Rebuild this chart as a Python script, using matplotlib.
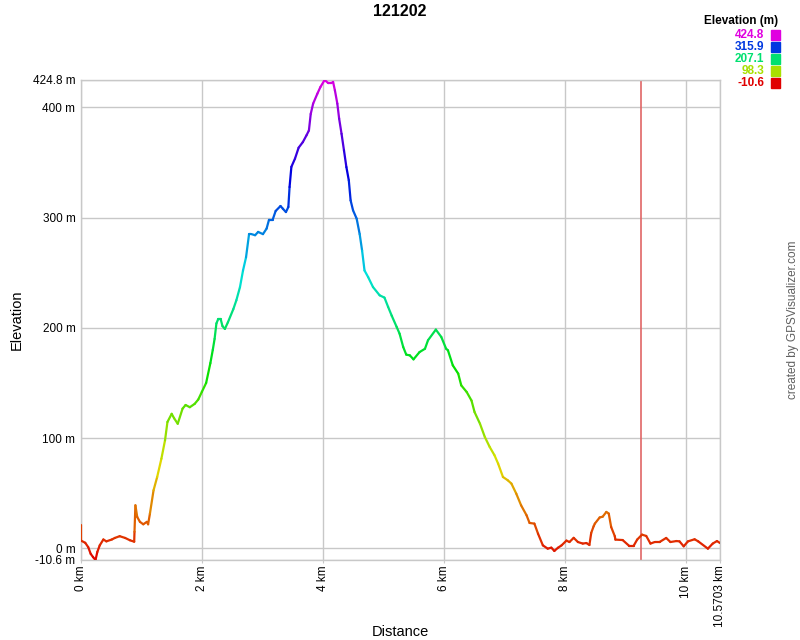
import numpy as np
import matplotlib
matplotlib.use('Agg')
import matplotlib.pyplot as plt
from matplotlib.collections import LineCollection
from matplotlib.colors import hsv_to_rgb

plt.rcParams['font.family'] = ['Liberation Sans', 'DejaVu Sans']

# Profile (km, m)
dist_km = [0.0, 0.0, 0.07, 0.12, 0.16, 0.20, 0.24, 0.27, 0.31, 0.37, 0.42, 0.51, 0.56, 0.64,
           0.73, 0.81, 0.88, 0.885, 0.90, 0.93, 0.975, 1.03, 1.09, 1.11, 1.14, 1.20, 1.26, 1.33,
           1.39, 1.43, 1.50, 1.54, 1.60, 1.68, 1.73, 1.80, 1.88, 1.94, 2.00, 2.07, 2.14, 2.18,
           2.21, 2.24, 2.27, 2.31, 2.34, 2.38, 2.43, 2.52, 2.57, 2.63, 2.68, 2.73, 2.78, 2.82,
           2.88, 2.93, 3.01, 3.07, 3.11, 3.17, 3.22, 3.30, 3.34, 3.39, 3.43, 3.45, 3.48, 3.54,
           3.60, 3.67, 3.73, 3.77, 3.80, 3.84, 3.91, 3.96, 4.03, 4.09, 4.14, 4.17, 4.20, 4.24,
           4.27, 4.31, 4.35, 4.39, 4.43, 4.46, 4.50, 4.56, 4.61, 4.65, 4.69, 4.75, 4.83, 4.94,
           5.02, 5.08, 5.14, 5.22, 5.27, 5.33, 5.38, 5.44, 5.50, 5.60, 5.69, 5.74, 5.87, 5.96,
           6.04, 6.07, 6.15, 6.24, 6.29, 6.38, 6.46, 6.51, 6.60, 6.68, 6.76, 6.84, 6.90, 6.98,
           7.06, 7.12, 7.20, 7.28, 7.37, 7.42, 7.50, 7.56, 7.64, 7.72, 7.78, 7.83, 7.89, 7.95,
           8.03, 8.08, 8.15, 8.22, 8.30, 8.36, 8.41, 8.44, 8.48, 8.50, 8.58, 8.63, 8.69, 8.73,
           8.77, 8.83, 8.84, 8.96, 9.07, 9.14, 9.20, 9.28, 9.35, 9.42, 9.49, 9.57, 9.68, 9.75,
           9.85, 9.90, 9.97, 10.04, 10.15, 10.21, 10.37, 10.45, 10.52, 10.5703]
elev_m = [21, 7, 5, 1, -5, -8, -10.6, -3.3, 2.7, 8, 6.3, 8, 9.4, 11,
          9.4, 7.3, 6, 15, 39, 28.4, 24, 21.8, 24, 21.8, 31.4, 52.6, 64.7, 81.3,
          98, 114.6, 122, 118, 113, 126.7, 130, 128, 131, 135, 142, 150, 168, 180,
          190, 204, 208, 208, 201.6, 199, 205, 217, 225, 237, 252, 264, 285, 285,
          284, 287, 285, 290, 298, 298, 306, 310.5, 308, 305, 309.6, 327.7, 346, 353.5,
          363.4, 368.5, 374.6, 379, 394, 403.4, 412.4, 418.4, 424.8, 422, 422, 423, 415.4, 403.4,
          389.8, 376, 361, 345.8, 333.8, 315.6, 306.6, 299, 285, 270, 252, 246, 237, 229.5,
          227.4, 219, 211, 201, 194.7, 182.6, 175.7, 175, 171.4, 178, 181, 188.7, 198.4, 191.7,
          181, 179.6, 166, 158.4, 147.8, 141.8, 134, 123.6, 113, 101, 92, 84.4, 76.8, 64.7,
          61.7, 58.7, 49.6, 39, 30, 23, 22.4, 13.3, 2.7, -0.3, 0.6, -2.4, 0.5, 2.7,
          7, 5.7, 9.5, 5.7, 4.3, 4.8, 3, 14, 20, 22.4, 28, 28.7, 33, 31.5,
          19.3, 11, 7.9, 7.5, 2.1, 2.1, 7.9, 12.4, 11.2, 4.3, 5.7, 5.7, 9.4, 5.7,
          6.6, 6.3, 1.8, 6.3, 8.2, 6.3, -0.3, 4.3, 6.6, 4.8]

legend_vals = [424.8, 315.9, 207.1, 98.3, -10.6]
y_ticks = [-10.6, 0, 100, 200, 300, 400, 424.8]
y_labels = ['-10.6 m', '0 m', '100 m', '200 m', '300 m', '400 m', '424.8 m']
x_ticks = [0, 2, 4, 6, 8, 10, 10.5703]
x_labels = ['0 km', '2 km', '4 km', '6 km', '8 km', '10 km', '10.5703 km']
marker_km = 9.256

emin, emax = min(elev_m), max(elev_m)


def elev_color(v):
    # hue wheel red -> magenta
    h = (v - emin) / (emax - emin) * 300.0 / 360.0
    return hsv_to_rgb([h, 1.0, 0.88])


fig = plt.figure(figsize=(8, 6.4), dpi=100)
ax = fig.add_axes([81 / 800, 80 / 640, 639 / 800, 480 / 640])

x = np.array(dist_km)
y = np.array(elev_m)
pts = np.column_stack([x, y]).reshape(-1, 1, 2)
segs = np.concatenate([pts[:-1], pts[1:]], axis=1)
cols = [elev_color((a + b) / 2) for a, b in zip(y[:-1], y[1:])]
lc = LineCollection(segs, colors=cols, linewidths=1.6, capstyle='round', joinstyle='round', zorder=3)
ax.add_collection(lc)

ax.axvline(marker_km, color='#e06666', lw=1.2, zorder=2)

ax.set_xlim(0, 10.5703)
ax.set_ylim(-10.6, 424.8)
ax.set_yticks(y_ticks)
ax.set_yticklabels(y_labels, fontsize=8.5)
ax.set_xticks(x_ticks)
ax.set_xticklabels(x_labels, fontsize=8.5, rotation=90)
ax.grid(True, color='#c8c8c8', lw=1)
ax.tick_params(axis='y', length=0, pad=4)
ax.tick_params(axis='x', length=2, color='#c8c8c8', pad=2)
for s in ax.spines.values():
    s.set_color('#c8c8c8')
    s.set_linewidth(1)

fig.text(400 / 800, 1 - 632 / 640, 'Distance', ha='center', va='center', fontsize=10.5)
fig.text(17 / 800, 1 - 320 / 640, 'Elevation', ha='center', va='center', fontsize=10.5, rotation=90)

fig.text(0.5, 1 - 12 / 640, '121202', ha='center', va='center', fontsize=11.5, fontweight='bold')

# colour legend
fig.text(778 / 800, 1 - 21 / 640, 'Elevation (m)', ha='right', va='center', fontsize=8.5, fontweight='bold')
for i, v in enumerate(legend_vals):
    yy = 1 - (35 + 12 * i) / 640
    c = elev_color(v)
    fig.text(764 / 800, yy, f'{v:.1f}', ha='right', va='center', fontsize=8.5, fontweight='bold', color=c)
    fig.patches.append(plt.Rectangle((771 / 800, yy - 5 / 640), 9 / 800, 10 / 640,
                                     transform=fig.transFigure, color=c, figure=fig))

fig.text(793 / 800, 1 - 320 / 640, 'created by GPSVisualizer.com', rotation=90,
         ha='center', va='center', fontsize=8.5, color='#606060')

fig.savefig('out.png', dpi=100)
